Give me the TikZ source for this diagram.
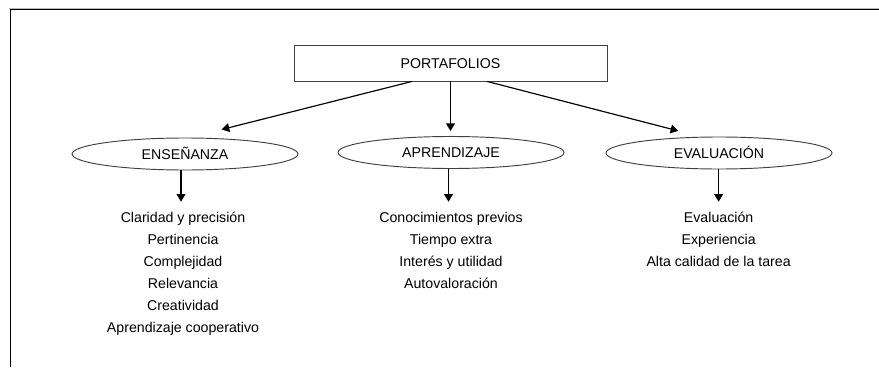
\documentclass[tikz,border=0pt]{standalone}
\usepackage{fontspec}
\setmainfont{Liberation Sans}
\usetikzlibrary{arrows.meta, calc, shapes.geometric}

\begin{document}
\begin{tikzpicture}[x=0.03cm, y=-0.03cm,
                        arr/.style={-{Triangle[length=6.5pt, width=7.5pt]}, line width=1pt},
                        topic/.style={ellipse, draw=black!75, line width=0.8pt, minimum width=6.78cm, minimum height=0.96cm, inner sep=0pt, text height=8.7pt, text depth=0pt, font=\fontsize{12.1}{14}\selectfont},
                        item/.style={inner sep=0pt, anchor=base, text height=8.7pt, text depth=2.6pt, font=\fontsize{12.1}{14}\selectfont}]
                        \useasboundingbox (0, 0) rectangle (879, 367);
                        % page frame (top and left edges only)
                        \draw[gray!55, line width=0.85pt] (9, 8.3) -- (879, 8.3);
                        \draw[line width=1pt] (879, 9.8) -- (10.3, 9.8) -- (10.3, 367);
                        % title and the three branches
                        \node[draw=black!75, line width=0.8pt, minimum width=9.39cm, minimum height=1.08cm, inner sep=0pt, text height=8.7pt, text depth=0pt, font=\fontsize{12.1}{14}\selectfont] (port) at (450.5, 63){PORTAFOLIOS};
                        \node[topic] (ens) at (185, 154){ENSEÑANZA};
                        \node[topic] (apr) at (451, 152.5){APRENDIZAJE};
                        \node[topic] (evalu) at (719, 153){EVALUACIÓN};
                        \draw[arr, shorten >=0.98cm] ($(port.south west)!.377!(port.south east)$) -- ($(ens.north)+(5, 0)$);
                        \draw[arr, shorten >=0.15cm] (port.south) -- (port.south |- apr.north);
                        \draw[arr, shorten >=0.675cm] ($(port.south west)!.617!(port.south east)$) -- ($(evalu.north)+(-19, 0)$);
                        % lists under each branch
                        \foreach \t [count=\i] in {Claridad y precisión, Pertinencia, Complejidad, Relevancia, Creatividad, Aprendizaje cooperativo}
                                \node[item] (ens\i) at (183, 200.5+22*\i){\t};
                        \foreach \t [count=\i] in {Conocimientos previos, Tiempo extra, Interés y utilidad, Autovaloración}
                                \node[item] (apr\i) at (451, 200.5+22*\i){\t};
                        \foreach \t [count=\i] in {Evaluación, Experiencia, Alta calidad de la tarea}
                                \node[item] (evalu\i) at (718.6, 200.5+22*\i){\t};
                        \draw[arr, shorten >=0.31cm] ($(ens.south -| ens1.north)+(-2, 0)$) -- ($(ens1.north)+(-2, 0)$);
                        \draw[arr, shorten >=0.31cm] ($(apr.south -| apr1.north)+(-2.5, 0)$) -- ($(apr1.north)+(-2.5, 0)$);
                        \draw[arr, shorten >=0.31cm] (evalu.south -| evalu1.north) -- (evalu1.north);
                \end{tikzpicture}
\end{document}
